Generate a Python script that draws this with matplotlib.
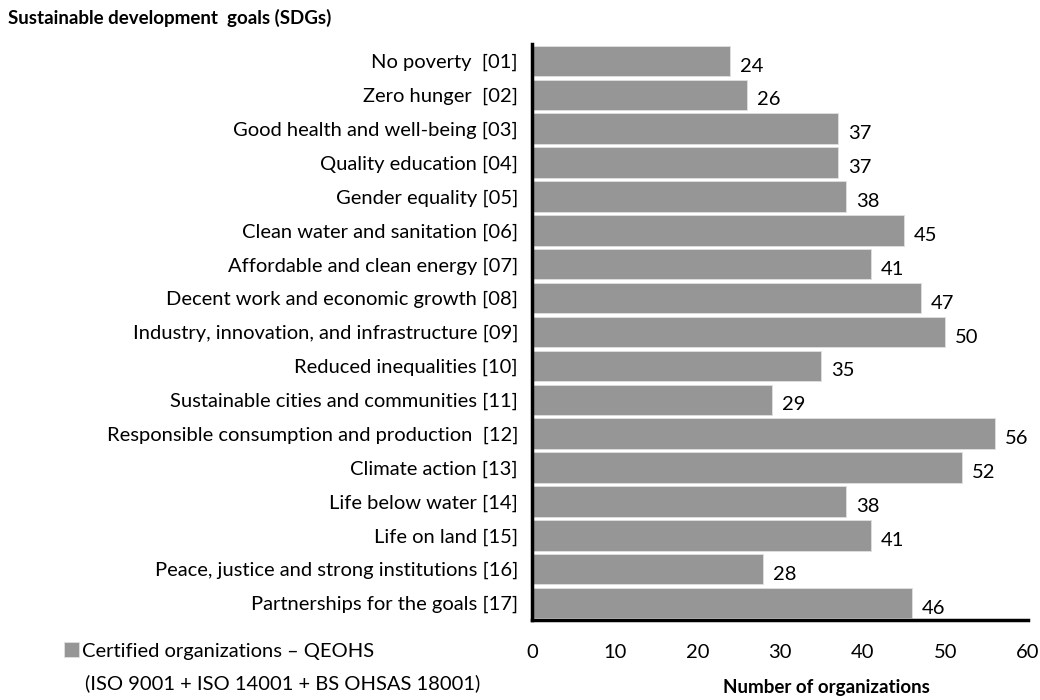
import numpy as np
import matplotlib.pyplot as plt

plt.rcParams['font.family'] = ['Lato', 'DejaVu Sans']

goals = ["No poverty  [01]", "Zero hunger  [02]", "Good health and well-being [03]",
         "Quality education [04]", "Gender equality [05]", "Clean water and sanitation [06]",
         "Affordable and clean energy [07]", "Decent work and economic growth [08]",
         "Industry, innovation, and infrastructure [09]", "Reduced inequalities [10]",
         "Sustainable cities and communities [11]", "Responsible consumption and production  [12]",
         "Climate action [13]", "Life below water [14]", "Life on land [15]",
         "Peace, justice and strong institutions [16]", "Partnerships for the goals [17]"]
counts = [24, 26, 37, 37, 38, 45, 41, 47, 50, 35, 29, 56, 52, 38, 41, 28, 46]
xticks = [0, 10, 20, 30, 40, 50, 60]

fs = 14.5

fig = plt.figure(figsize=(10.4, 7), dpi=100)
ax = fig.add_axes([532 / 1040, 1 - 620 / 700, 496 / 1040, 576 / 700])

y = np.arange(len(goals))
bars = ax.barh(y, counts, height=0.9, color='#969696', edgecolor='#e0e0e0', linewidth=0.6,
               label='Certified organizations – QEOHS')
for yi, c in zip(y, counts):
    ax.text(c + 1.2, yi + 0.15, str(c), va='center', ha='left', fontsize=fs)

ax.set_ylim(len(goals) - 0.5, -0.5)
ax.set_xlim(0, 60)
ax.set_yticks(y)
ax.set_yticklabels(goals, fontsize=fs)
ax.set_xticks(xticks)
ax.set_xticklabels([str(t) for t in xticks], fontsize=fs)
ax.tick_params(axis='both', length=0)
ax.tick_params(axis='x', pad=17)
ax.tick_params(axis='y', pad=10)
for s in ['top', 'right']:
    ax.spines[s].set_visible(False)
ax.spines['left'].set_linewidth(2.5)
ax.spines['bottom'].set_linewidth(2.5)
ax.set_xlabel('Number of organizations', fontsize=13.5, fontweight='bold')
ax.xaxis.set_label_coords((826 - 532) / 496, -(688 - 620) / 576)
ax.xaxis.label.set_va('center')

fig.text(8 / 1040, 1 - 18 / 700, 'Sustainable development  goals (SDGs)', fontsize=13.5,
         fontweight='bold', va='center', ha='left')

fig.legend(handles=[bars], loc='center left', bbox_to_anchor=(64 / 1040, 1 - 651 / 700),
           frameon=False, fontsize=fs, handlelength=0.75, handleheight=0.75,
           handletextpad=0.15, borderaxespad=0, borderpad=0)
fig.text(85 / 1040, 1 - 683 / 700, '(ISO 9001 + ISO 14001 + BS OHSAS 18001)', fontsize=fs,
         va='center', ha='left')

fig.savefig('out.png', dpi=100)
